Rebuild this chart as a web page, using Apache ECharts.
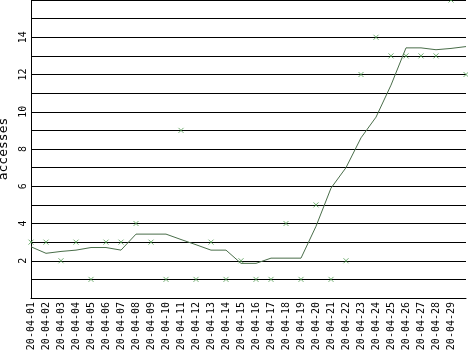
<!DOCTYPE html>
<html>
<head>
<meta charset="utf-8">
<script src="https://cdn.jsdelivr.net/npm/echarts@6/dist/echarts.min.js"></script>
<style>
html,body{margin:0;padding:0;background:#fff;}
#c{width:468px;height:351px;}
</style>
</head>
<body>
<div id="c"></div>
<script>
var categories = ['20-04-01','20-04-02','20-04-03','20-04-04','20-04-05','20-04-06','20-04-07','20-04-08','20-04-09','20-04-10',
  '20-04-11','20-04-12','20-04-13','20-04-14','20-04-15','20-04-16','20-04-17','20-04-18','20-04-19','20-04-20',
  '20-04-21','20-04-22','20-04-23','20-04-24','20-04-25','20-04-26','20-04-27','20-04-28','20-04-29','20-04-30'];
var accesses = [3,3,2,3,1,3,3,4,3,1, 9,1,3,1,2,1,1,4,1,5, 1,2,12,14,13,13,13,13,16,12];
var trend = [2.75,2.4,2.5,2.57,2.71,2.71,2.57,3.43,3.43,3.43, 3.14,2.86,2.57,2.57,1.86,1.86,2.14,2.14,2.14,3.85,
  5.9,7.0,8.6,9.71,11.43,13.43,13.43,13.33,13.4,13.5];
var yTicks = [2,4,6,8,10,12,14];

var chart = echarts.init(document.getElementById('c'), null, {renderer:'canvas'});
var fontMono = 'DejaVu Sans Mono';
chart.setOption({
  animation:false,
  backgroundColor:'#fff',
  grid:{left:31, right:2, top:0, bottom:53, containLabel:false, outerBoundsMode:'none'},
  xAxis:{
    type:'category',
    data:categories,
    boundaryGap:false,
    axisLine:{show:true, lineStyle:{color:'#000', width:1}},
    axisTick:{show:false},
    splitLine:{show:false},
    axisLabel:{
      interval:0, rotate:90, margin:4, color:'#000',
      fontFamily:fontMono, fontSize:10,
      formatter:function(v, i){ return i < categories.length - 1 ? v : ''; }
    }
  },
  yAxis:{
    type:'value', min:0, max:16, interval:1,
    name:'accesses', nameLocation:'middle', nameGap:17, nameRotate:90,
    nameTextStyle:{color:'#000', fontFamily:fontMono, fontSize:13},
    axisLine:{show:true, lineStyle:{color:'#000', width:1}},
    axisTick:{show:false},
    splitLine:{show:true, lineStyle:{color:'#000', width:1}},
    axisLabel:{
      rotate:90, margin:3, color:'#000', fontFamily:fontMono, fontSize:10,
      formatter:function(v){ return yTicks.indexOf(v) >= 0 ? String(v) : ''; }
    }
  },
  series:[
    {
      type:'line', data:trend, showSymbol:false, symbol:'none',
      lineStyle:{color:'#4a6e4a', width:1}, z:3
    },
    {
      type:'scatter', data:accesses,
      symbol:'path://M0,0L10,10M10,0L0,10', symbolSize:5,
      itemStyle:{color:'none', borderColor:'#4f9a4f', borderWidth:1},
      z:4
    }
  ]
});
</script>
</body>
</html>
